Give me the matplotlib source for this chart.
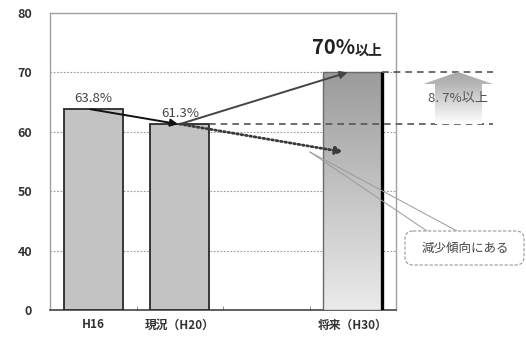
import numpy as np
import matplotlib
matplotlib.use("Agg")
import matplotlib.pyplot as plt
from matplotlib.colors import LinearSegmentedColormap
from matplotlib.patches import Polygon, FancyBboxPatch
from matplotlib.ticker import FixedLocator

plt.rcParams['font.family'] = ['Noto Sans CJK JP', 'DejaVu Sans']

# data
categories = ['H16', '現況（H20）', '', '将来（H30）']
values = [63.8, 61.3, None, 70.0]
value_labels = ['63.8%', '61.3%', None, '70%']
trend_value = 56.6          # projected value if the decline continues
gap_label = '8. 7%以上'
note_label = '減少傾向にある'
yticks = [0, 40, 50, 60, 70, 80]


# broken y axis: 0-40 squeezed into one grid step
def fwd(v):
    v = np.asarray(v, dtype=float)
    return np.where(v >= 40, v, 30 + v / 4.0)


def inv(p):
    p = np.asarray(p, dtype=float)
    return np.where(p >= 40, p, (p - 30) * 4.0)


W, H = 526, 338
fig = plt.figure(figsize=(W / 100, H / 100), dpi=100)
ax = fig.add_axes([50 / W, 1 - 310 / H, 346 / W, 297 / H])
ax.set_yscale('function', functions=(fwd, inv))

x = np.arange(len(categories))
bw = 0.68
txt = '#333333'

# plain bars
for i in (0, 1):
    ax.bar(x[i], values[i], width=bw, color='#c3c3c3', edgecolor='#2a2a2a',
           linewidth=1.3, zorder=3)

# target bar with vertical gradient
tbar = ax.bar(x[3], values[3], width=bw, color='none', edgecolor='#6a6a6a',
              linewidth=1.0, zorder=4)[0]
cmap = LinearSegmentedColormap.from_list('g', ['#ebebeb', '#949494'])
grad = np.linspace(0, 1, 256).reshape(-1, 1)
im = ax.imshow(grad, extent=(0, 1, 0, 0.875), transform=ax.transAxes,
               origin='lower', cmap=cmap, aspect='auto', zorder=3)
im.set_clip_path(tbar)
ax.vlines(x[3] + bw / 2, 0, values[3], color='black', linewidth=2.4, zorder=5)

ax.set_xlim(-0.5, 3.5)
ax.set_ylim(0, 80)

# axes styling
ax.yaxis.set_major_locator(FixedLocator(yticks))
ax.set_yticklabels([str(t) for t in yticks])
ax.set_xticks(x)
ax.set_xticklabels(categories)
ax.xaxis.set_minor_locator(FixedLocator([0.5, 1.5, 2.5]))
ax.tick_params(axis='y', length=0, pad=13, labelsize=9, labelcolor=txt)
ax.tick_params(axis='x', which='major', length=0, pad=6, labelsize=8.5,
               labelcolor=txt)
ax.tick_params(axis='x', which='minor', direction='in', length=3,
               color='#777777')
for lab in ax.get_yticklabels() + ax.get_xticklabels():
    lab.set_fontweight('bold')
for s in ('left', 'top', 'right'):
    ax.spines[s].set_color('#a0a0a0')
    ax.spines[s].set_linewidth(1.0)
ax.spines['bottom'].set_color('#444444')
ax.spines['bottom'].set_linewidth(1.2)
ax.grid(axis='y', linestyle=(0, (1.5, 1.5)), color='#999999', linewidth=0.8,
        zorder=1)
ax.set_axisbelow(True)

# value labels
for i in (0, 1):
    ax.annotate(value_labels[i], (x[i], values[i]), xytext=(0, 3),
                textcoords='offset points', ha='center', va='bottom',
                fontsize=9.5, color='#444444')
ax.annotate(value_labels[3], (x[3], values[3]), xytext=(1.5, 13),
            textcoords='offset points', ha='right', va='baseline',
            fontsize=14.5, fontweight='bold', color='#222222')
ax.annotate('以上', (x[3], values[3]), xytext=(1.5, 13),
            textcoords='offset points', ha='left', va='baseline',
            fontsize=10, fontweight='bold', color='#222222')

# reference dashes for the current and target levels
ax.hlines(values[1], x[1] + bw / 2, 4.62, colors='#555555', linewidth=1.2,
          linestyles=(0, (4, 3)), clip_on=False, zorder=6)
ax.hlines(values[3], x[3] + bw / 2, 4.62, colors='#555555', linewidth=1.2,
          linestyles=(0, (4, 3)), clip_on=False, zorder=6)

# trend arrows
ax.annotate('', xy=(x[1] - 0.02, values[1]), xytext=(x[0] - 0.03, values[0]),
            arrowprops=dict(arrowstyle='-|>', color='#111111', lw=1.4,
                            mutation_scale=11, shrinkA=0, shrinkB=0),
            zorder=7)
ax.annotate('', xy=(x[3] - 0.06, values[3]), xytext=(x[1], values[1]),
            arrowprops=dict(arrowstyle='-|>', color='#444444', lw=1.4,
                            mutation_scale=11, shrinkA=0, shrinkB=0),
            zorder=7)
ax.annotate('', xy=(2.89, trend_value), xytext=(x[1], values[1]),
            arrowprops=dict(arrowstyle='-|>', color='#3a3a3a', lw=2.0,
                            linestyle=(0, (0.6, 1.0)), mutation_scale=11,
                            shrinkA=0, shrinkB=0),
            zorder=7)

# decorations placed in pixel space
deco = fig.add_axes([0, 0, 1, 1], zorder=10)
deco.set_xlim(0, W)
deco.set_ylim(H, 0)
deco.axis('off')
deco.patch.set_visible(False)

# block arrow for the required increase
arrow_pts = [(458, 72), (493, 84), (482, 84), (482, 124), (435, 124),
             (435, 84), (423, 84)]
arrow_poly = Polygon(arrow_pts, closed=True, facecolor='none',
                     edgecolor='none')
deco.add_patch(arrow_poly)
acmap = LinearSegmentedColormap.from_list(
    'a', [(0, '#a6a6a6'), (0.25, '#b8b8b8'), (1, '#ffffff')])
agrad = np.linspace(0, 1, 256).reshape(-1, 1)
aim = deco.imshow(agrad, extent=(420, 496, 124, 72), origin='upper',
                  cmap=acmap, aspect='auto', zorder=2)
aim.set_clip_path(arrow_poly)
deco.set_xlim(0, W)
deco.set_ylim(H, 0)
deco.text(458, 98, gap_label, ha='center', va='center', fontsize=9.5,
          color='#555555', zorder=3)

# callout for the declining trend
for end in ((427, 231), (457, 231)):
    deco.plot([310, end[0]], [152, end[1]], color='#9a9a9a', lw=0.7,
              zorder=2)
box = FancyBboxPatch((405, 231), 119, 34,
                     boxstyle='round,pad=0,rounding_size=8',
                     facecolor='white', edgecolor='#9a9a9a', lw=0.8,
                     linestyle=(0, (3, 1.5)), zorder=3)
deco.add_patch(box)
deco.text(465, 248, note_label, ha='center', va='center', fontsize=9,
          color='#444444', zorder=4)

fig.savefig('out.png', dpi=100)
